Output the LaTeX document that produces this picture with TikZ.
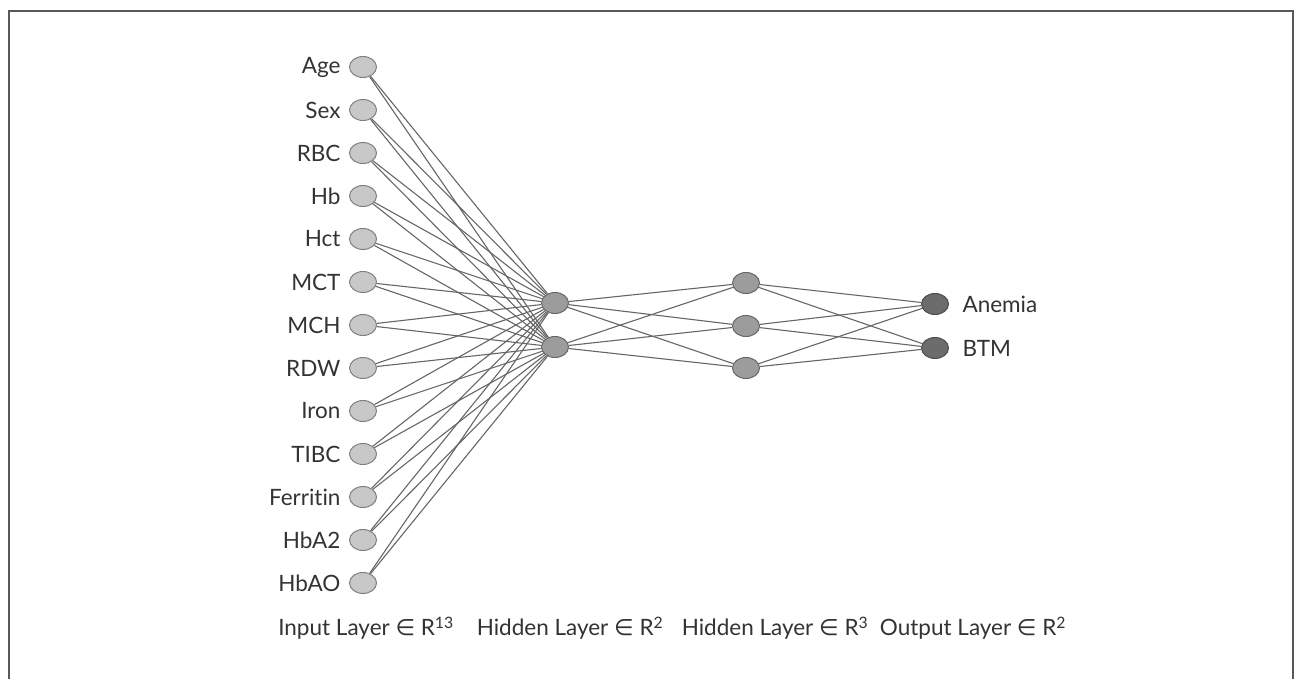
\documentclass[tikz,border=0pt]{standalone}
\usepackage{fontspec}
\setmainfont[Ligatures=NoCommon]{Lato}
\newfontfamily\symfont{DejaVu Sans}
\usetikzlibrary{shapes.geometric,positioning}
\definecolor{inputgray}{HTML}{C8C8C8}
\definecolor{hiddengray}{HTML}{9C9C9C}
\definecolor{outputgray}{HTML}{6C6C6C}
\definecolor{edgegray}{HTML}{666666}
\definecolor{textgray}{HTML}{333333}
\begin{document}
\begin{tikzpicture}[x=1pt,y=-1pt]
        % Common styles
        \tikzstyle{neuron}=[ellipse, minimum width=27pt, minimum height=21pt, inner sep=0pt, line width=1pt]
        \tikzstyle{inputnode}=[neuron, fill=inputgray, draw=gray]
        \tikzstyle{hiddennode}=[neuron, fill=hiddengray, draw=gray!80!black]
        \tikzstyle{outputnode}=[neuron, fill=outputgray, draw=gray!60!black]
        \tikzstyle{link}=[edgegray, line width=1.1pt]
        \tikzstyle{labeltext}=[textgray, font=\fontsize{22.5}{22.5}\selectfont]

        \useasboundingbox (0,0) rectangle (1296,679);

        % Frame (open at the bottom)
        \draw[line width=1.5pt, gray!70!black] (9,679) -- (9,11) -- (1293,11) -- (1293,679);

        % --- Input layer ---
        \foreach \name [count=\i] in {Age, Sex, RBC, Hb, Hct, MCT, MCH, RDW, Iron, TIBC, Ferritin, HbA2, HbAO} {
            \node[inputnode] (in\i) at (363, 24+43*\i) {};
            \node[labeltext, left=5pt of in\i] (inlab\i) {\name};
        }

        % --- Hidden layer 1 ---
        \node[hiddennode] (ha1) at (555, 303) {};
        \node[hiddennode] (ha2) at (555, 347) {};

        % --- Hidden layer 2 ---
        \node[hiddennode] (hb1) at (746, 283) {};
        \node[hiddennode] (hb2) at (746, 326) {};
        \node[hiddennode] (hb3) at (746, 368) {};

        % --- Output layer ---
        \node[outputnode] (out1) at (935, 304) {};
        \node[outputnode] (out2) at (935, 348) {};
        \node[labeltext, right=10pt of out1] (outlab1) {Anemia};
        \node[labeltext, right=10pt of out2] (outlab2) {BTM};

        % Connections
        \foreach \i in {1,...,13}
            \foreach \j in {1,2}
                \draw[link] (in\i) -- (ha\j);
        \foreach \i in {1,2}
            \foreach \j in {1,2,3}
                \draw[link] (ha\i) -- (hb\j);
        \foreach \i in {1,2,3}
            \foreach \j in {1,2}
                \draw[link] (hb\i) -- (out\j);

        % Layer captions
        \node[labeltext] (cap1) at (366, 628) {Input Layer {\symfont∈} R\textsuperscript{13}};
        \node[labeltext] (cap2) at (570, 628) {Hidden Layer {\symfont∈} R\textsuperscript{2}};
        \node[labeltext] (cap3) at (775, 628) {Hidden Layer {\symfont∈} R\textsuperscript{3}};
        \node[labeltext] (cap4) at (973, 628) {Output Layer {\symfont∈} R\textsuperscript{2}};

\end{tikzpicture}
\end{document}
